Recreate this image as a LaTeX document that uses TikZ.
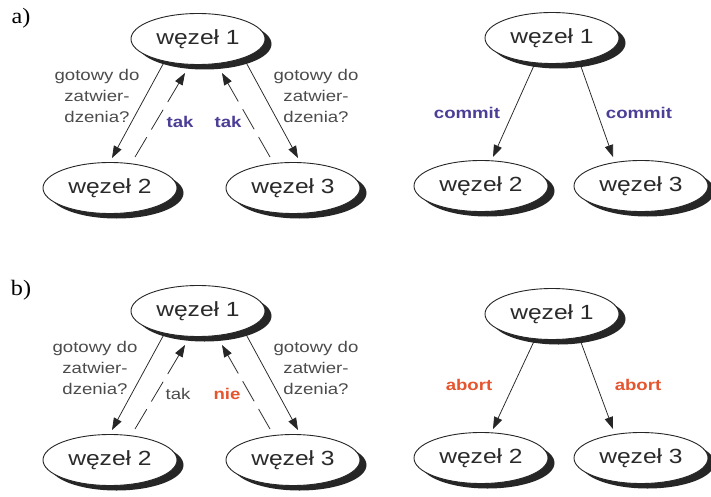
\documentclass[tikz,border=0pt]{standalone}
\usepackage{fontspec}
\setmainfont{Liberation Serif}
\newfontfamily\nf[FakeStretch=1.2]{Liberation Sans}
\newfontfamily\pf[FakeStretch=1.1]{Liberation Serif}
\usetikzlibrary{arrows.meta,calc,shadows,shapes.geometric}
\definecolor{tblue}{HTML}{4B3E96}
\definecolor{tred}{HTML}{E5552E}
\definecolor{lgray}{HTML}{4C4C4C}
\definecolor{ngray}{HTML}{2A2A2A}
\pgfdeclarelayer{back}
\pgfdeclarelayer{bg}
\pgfsetlayers{back,bg,main}
\tikzset{
  wnode/.style={ellipse, draw=black!85, line width=0.9pt, fill=white,
    minimum width=134pt, minimum height=51pt, inner sep=0pt,
    font=\nf\fontsize{20.5}{24}\selectfont, text=ngray,
    general shadow={fill=black!85, draw=none, shadow xshift=6.5pt, shadow yshift=-5pt}},
  arr/.style={-{Triangle[length=12pt,width=8.5pt]}, line width=0.75pt, draw=black!85},
  darr/.style={arr, dash pattern=on 23pt off 9pt},
  lab/.style={font=\nf\fontsize{15.5}{21}\selectfont, text=lgray, align=center, inner sep=0pt},
  blab/.style={font=\nf\bfseries\fontsize{15.5}{21}\selectfont, inner sep=0pt},
  plab/.style={font=\pf\fontsize{22}{26}\selectfont, inner sep=0pt}
}
\begin{document}
\begin{tikzpicture}[x=1pt,y=-1pt]
\begin{pgfonlayer}{back}
\fill[white] (0,0) rectangle (711,497);
\end{pgfonlayer}
\useasboundingbox (0,0) rectangle (711,497);

% ---------------- panel a ----------------
\node[plab] (pa) at (21,18) {a)};
\node[wnode] (a1) at (198,39) {węzeł 1};
\node[wnode] (a2) at (110,188) {węzeł 2};
\node[wnode] (a3) at (293,188) {węzeł 3};
\begin{pgfonlayer}{bg}
\draw[arr]  ($(a1)+(-33,21.5)$) -- ($(a2)+(2,-30)$);
\draw[darr] ($(a2)+(25,-31)$) -- ($(a1)+(-13,34)$);
\draw[darr] ($(a3)+(-23,-31)$) -- ($(a1)+(24,34)$);
\draw[arr]  ($(a1)+(47,21.5)$) -- ($(a3)+(5,-30)$);
\end{pgfonlayer}
\node[lab] (la) at (97,96) {gotowy do\\zatwier-\\dzenia?};
\node[lab] (ra) at (316,96) {gotowy do\\zatwier-\\dzenia?};
\node[blab, text=tblue] (t1) at (180,122) {tak};
\node[blab, text=tblue] (t2) at (228,122) {tak};

\node[wnode] (ar1) at (552,38) {węzeł 1};
\node[wnode] (ar2) at (481,186) {węzeł 2};
\node[wnode] (ar3) at (641,186) {węzeł 3};
\begin{pgfonlayer}{bg}
\draw[arr] ($(ar1)+(-16,23)$) -- ($(ar2)+(12,-29)$);
\draw[arr] ($(ar1)+(27,23)$) -- ($(ar3)+(-28,-29)$);
\end{pgfonlayer}
\node[blab, text=tblue] (c1) at (467,113) {commit};
\node[blab, text=tblue] (c2) at (639,113) {commit};

% ---------------- panel b ----------------
\begin{scope}[shift={(0,272)}]
\node[plab] (pb) at (21,18) {b)};
\node[wnode] (b1) at (198,39) {węzeł 1};
\node[wnode] (b2) at (110,188) {węzeł 2};
\node[wnode] (b3) at (293,188) {węzeł 3};
\begin{pgfonlayer}{bg}
\draw[arr]  ($(b1)+(-33,21.5)$) -- ($(b2)+(2,-30)$);
\draw[darr] ($(b2)+(25,-31)$) -- ($(b1)+(-13,34)$);
\draw[darr] ($(b3)+(-23,-31)$) -- ($(b1)+(24,34)$);
\draw[arr]  ($(b1)+(47,21.5)$) -- ($(b3)+(5,-30)$);
\end{pgfonlayer}
\node[lab] (lb) at (95,96) {gotowy do\\zatwier-\\dzenia?};
\node[lab] (rb) at (316,96) {gotowy do\\zatwier-\\dzenia?};
\node[lab] (t3) at (178,122) {tak};
\node[blab, text=tred] (n1) at (227,122) {nie};

\node[wnode] (br1) at (552,42) {węzeł 1};
\node[wnode] (br2) at (481,186) {węzeł 2};
\node[wnode] (br3) at (641,186) {węzeł 3};
\begin{pgfonlayer}{bg}
\draw[arr] ($(br1)+(-16,23)$) -- ($(br2)+(12,-29)$);
\draw[arr] ($(br1)+(27,23)$) -- ($(br3)+(-28,-29)$);
\end{pgfonlayer}
\node[blab, text=tred] (ab1) at (469,113) {abort};
\node[blab, text=tred] (ab2) at (638,113) {abort};
\end{scope}
\end{tikzpicture}
\end{document}
